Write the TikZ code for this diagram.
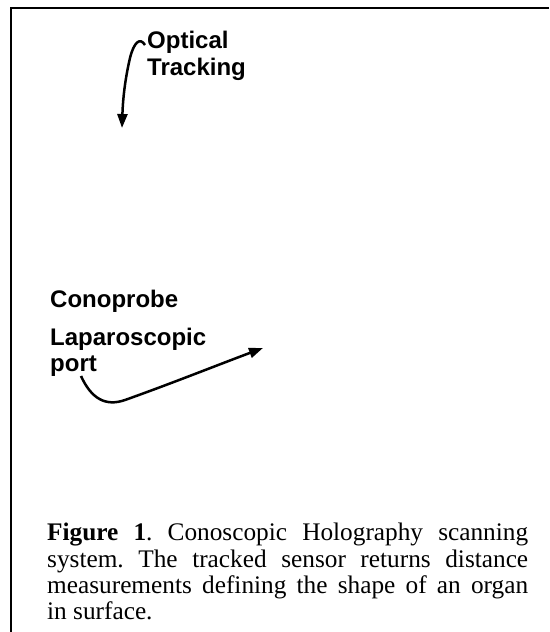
\documentclass[tikz,border=0pt]{standalone}
\usepackage{fontspec}
\setmainfont{Liberation Serif}
\newfontfamily\labelfont{Liberation Sans}
\usetikzlibrary{arrows.meta}
\tikzset{
  label text/.style={anchor=base west, inner sep=0pt, font=\labelfont\bfseries\fontsize{24}{26}\selectfont},
  pointer/.style={line width=2.5pt, -{Triangle[length=14pt,width=10pt]}},
  frame line/.style={line width=2pt}
}
\begin{document}
\begin{tikzpicture}[x=1pt,y=-1pt]
  \useasboundingbox (0,0) rectangle (549,632);
  % open frame, top and left sides
  \draw[frame line] (549,8) -- (11,8) -- (11,632);

  % labels
  \node[label text] (opt) at (147,48) {Optical};
  \node[label text] (trk) at (147,75) {Tracking};
  \node[label text] (cono) at (50,307) {Conoprobe};
  \node[label text] (lap) at (50,345) {Laparoscopic};
  \node[label text] (port) at (50,371) {port};

  % arrow ends
  \coordinate (optS) at (145,45);
  \coordinate (optE) at (122,128);
  \coordinate (lapS) at (81,376);
  \coordinate (lapE) at (263,348);

  \draw[pointer] (optS) .. controls (140,37) and (134,42) .. (130,58)
                 .. controls (126,75) and (123,95) .. (optE);
  \draw[pointer] (lapS) .. controls (91,398) and (105,407) .. (125,400)
                 .. controls (170,384) and (215,366) .. (lapE);

  % caption
  \node[anchor=north west, inner sep=0pt, text width=481pt, align=justify,
        font=\fontsize{25.3}{26.3}\selectfont] (cap) at (47,523)
    {\frenchspacing\textbf{Figure 1}. Conoscopic Holography scanning\linebreak
     system. The tracked sensor returns distance\linebreak
     measurements defining the shape of an organ\linebreak
     in surface.};
\end{tikzpicture}
\end{document}
